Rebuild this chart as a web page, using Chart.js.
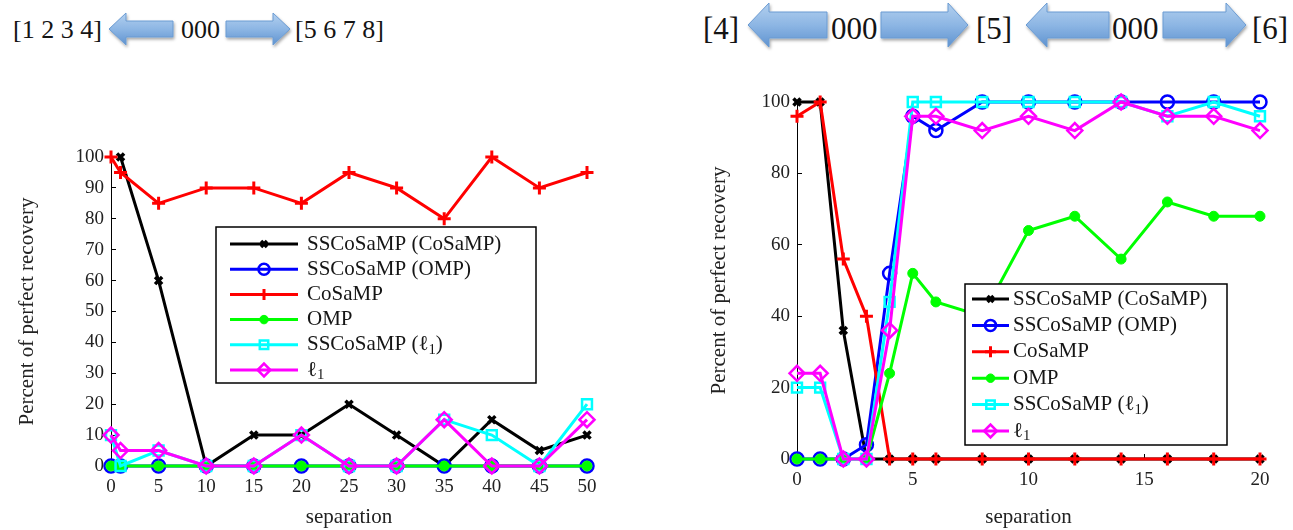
<!DOCTYPE html>
<html>
<head>
<meta charset="utf-8">
<script src="https://cdn.jsdelivr.net/npm/chart.js@4.4.1/dist/chart.umd.min.js"></script>
<style>
  body { margin: 0; background: #fff; width: 1293px; height: 530px; position: relative; overflow: hidden; font-family: "Liberation Serif", serif; }
  .hd { position: absolute; white-space: pre; color: #141414; line-height: 1; }
  #hdr { position: absolute; left: 0; top: 0; }
  #boxL { position: absolute; left: 0; top: 100px; width: 620px; height: 430px; }
  #boxR { position: absolute; left: 650px; top: 60px; width: 643px; height: 470px; }
</style>
</head>
<body>
<svg id="hdr" width="1293" height="60"></svg>
<div class="hd" style="left:13px;top:17px;font-size:26px">[1 2 3 4]</div>
<div class="hd" style="left:181px;top:17px;font-size:26px">000</div>
<div class="hd" style="left:295px;top:17px;font-size:26px">[5 6 7 8]</div>
<div class="hd" style="left:703px;top:13px;font-size:31px">[4]</div>
<div class="hd" style="left:831px;top:13px;font-size:31px">000</div>
<div class="hd" style="left:976px;top:13px;font-size:31px">[5]</div>
<div class="hd" style="left:1112px;top:13px;font-size:31px">000</div>
<div class="hd" style="left:1252px;top:13px;font-size:31px">[6]</div>
<div id="boxL"><canvas id="chartL" width="620" height="430"></canvas></div>
<div id="boxR"><canvas id="chartR" width="643" height="470"></canvas></div>
<script>
// datos del panel izquierdo
const sepLeft = [0, 1, 5, 10, 15, 20, 25, 30, 35, 40, 45, 50];
const ssCosampLeft = [null, 100, 60, 0, 10, 10, 20, 10, 0, 15, 5, 10];
const ssOmpLeft = [0, 0, 0, 0, 0, 0, 0, 0, 0, 0, 0, 0];
const cosampLeft = [100, 95, 85, 90, 90, 85, 95, 90, 80, 100, 90, 95];
const ompLeft = [0, 0, 0, 0, 0, 0, 0, 0, 0, 0, 0, 0];
const ssL1Left = [10, 0, 5, 0, 0, 10, 0, 0, 15, 10, 0, 20];
const l1Left = [10, 5, 5, 0, 0, 10, 0, 0, 15, 0, 0, 15];

// datos del panel derecho
const sepRight = [0, 1, 2, 3, 4, 5, 6, 8, 10, 12, 14, 16, 18, 20];
const ssCosampRight = [100, 100, 36, 0, 0, 0, 0, 0, 0, 0, 0, 0, 0, 0];
const ssOmpRight = [0, 0, 0, 4, 52, 96, 92, 100, 100, 100, 100, 100, 100, 100];
const cosampRight = [96, 100, 56, 40, 0, 0, 0, 0, 0, 0, 0, 0, 0, 0];
const ompRight = [0, 0, 0, 0, 24, 52, 44, 40, 64, 68, 56, 72, 68, 68];
const ssL1Right = [20, 20, 0, 0, 44, 100, 100, 100, 100, 100, 100, 96, 100, 96];
const l1Right = [24, 24, 0, 0, 36, 96, 96, 92, 96, 92, 100, 96, 96, 92];

const seriesNames = ['SSCoSaMP (CoSaMP)', 'SSCoSaMP (OMP)', 'CoSaMP', 'OMP', 'SSCoSaMP (ℓ₁)', 'ℓ₁'];
const yTitle = 'Percent of perfect recovery';
const xTitle = 'separation';

const serif = '"Liberation Serif", "Times New Roman", serif';

// estilo de cada serie (mismo orden que seriesNames)
const looks = [
  { color: '#000000', style: 'crossRot', r: 5, bw: 3.5, fill: '#000000' },
  { color: '#0000ff', style: 'circle', r: 6.5, bw: 2.5, fill: 'rgba(0,0,0,0)' },
  { color: '#ff0000', style: 'cross', r: 6.5, bw: 3, fill: '#ff0000' },
  { color: '#00ff00', style: 'circle', r: 5, bw: 1, fill: '#00ff00' },
  { color: '#00ffff', style: 'rect', r: 7, bw: 2.5, fill: 'rgba(0,0,0,0)' },
  { color: '#ff00ff', style: 'rectRot', r: 7.5, bw: 2.5, fill: 'rgba(0,0,0,0)' }
];

function buildDatasets(xs, series) {
  return series.map((ys, i) => {
    const lk = looks[i];
    return {
      label: seriesNames[i],
      data: ys.map((y, j) => ({ x: xs[j], y: y })),
      borderColor: lk.color,
      borderWidth: 3,
      pointStyle: lk.style,
      pointRadius: lk.r,
      pointHoverRadius: lk.r,
      pointBorderWidth: lk.bw,
      pointBorderColor: lk.color,
      pointBackgroundColor: lk.fill,
      tension: 0,
      clip: false,
      spanGaps: false,
      order: series.length - i
    };
  });
}

// texto con subíndice para ℓ₁
function drawLabel(ctx, text, x, y, size) {
  let cx = x;
  for (const ch of text) {
    if (ch === '₁') {
      ctx.font = (size * 0.7) + 'px ' + serif;
      ctx.fillText('1', cx, y + size * 0.25);
      cx += ctx.measureText('1').width;
    } else {
      ctx.font = size + 'px ' + serif;
      ctx.fillText(ch, cx, y);
      cx += ctx.measureText(ch).width;
    }
  }
}

const boxLegend = {
  id: 'boxLegend',
  afterDatasetsDraw(chart, args, o) {
    const ctx = chart.ctx;
    ctx.save();
    ctx.fillStyle = '#ffffff';
    ctx.fillRect(o.left, o.top, o.width, o.height);
    ctx.strokeStyle = '#000000';
    ctx.lineWidth = 1.5;
    ctx.strokeRect(o.left, o.top, o.width, o.height);
    chart.data.datasets.forEach((ds, i) => {
      const y = o.top + o.firstRow + i * o.rowGap;
      ctx.strokeStyle = ds.borderColor;
      ctx.lineWidth = ds.borderWidth;
      ctx.beginPath();
      ctx.moveTo(o.left + o.lineStart, y);
      ctx.lineTo(o.left + o.lineEnd, y);
      ctx.stroke();
      ctx.fillStyle = ds.pointBackgroundColor;
      ctx.strokeStyle = ds.pointBorderColor;
      ctx.lineWidth = ds.pointBorderWidth;
      Chart.helpers.drawPoint(ctx, {
        pointStyle: ds.pointStyle, radius: ds.pointRadius * 0.85,
        borderWidth: ds.pointBorderWidth, rotation: 0
      }, o.left + (o.lineStart + o.lineEnd) / 2, y);
      ctx.fillStyle = '#151515';
      ctx.textBaseline = 'middle';
      ctx.textAlign = 'left';
      drawLabel(ctx, ds.label, o.left + o.textX, y, o.fontSize);
    });
    ctx.restore();
  }
};

function axis(min, max, step, title, titlePad, size, tickPad) {
  return {
    type: 'linear',
    min: min, max: max,
    afterFit: s => { if (s.isHorizontal()) s.height = size; else s.width = size; },
    ticks: { stepSize: step, padding: tickPad, color: '#222', font: { family: serif, size: 19 } },
    grid: { display: true, drawOnChartArea: false, drawTicks: true, tickLength: -5, color: '#000', lineWidth: 1 },
    border: { display: true, color: '#000', width: 1 },
    title: { display: true, text: title, color: '#222', padding: titlePad, font: { family: serif, size: 21 } }
  };
}

function makeChart(id, xs, series, cfg) {
  return new Chart(document.getElementById(id).getContext('2d'), {
    type: 'line',
    data: { datasets: buildDatasets(xs, series) },
    options: {
      responsive: false,
      animation: false,
      events: [],
      layout: { padding: cfg.pad },
      scales: {
        x: axis(cfg.xMin, cfg.xMax, cfg.xStep, xTitle, { top: 0, bottom: 0 }, cfg.xSize, 15),
        y: axis(0, 100, cfg.yStep, yTitle, { top: cfg.yTitlePad, bottom: 0 }, cfg.ySize, 12)
      },
      plugins: {
        legend: { display: false },
        tooltip: { enabled: false },
        boxLegend: cfg.legend
      }
    },
    plugins: [boxLegend]
  });
}

function drawArrows() {
  const svg = document.getElementById('hdr');
  const ns = 'http://www.w3.org/2000/svg';
  svg.innerHTML =
    '<defs><linearGradient id="ag" x1="0" y1="0" x2="0" y2="1">' +
    '<stop offset="0" stop-color="#b3d0ef"/><stop offset="0.5" stop-color="#8db6e4"/><stop offset="1" stop-color="#5f93d0"/>' +
    '</linearGradient><filter id="sh" x="-20%" y="-30%" width="140%" height="170%">' +
    '<feDropShadow dx="1" dy="2" stdDeviation="1.5" flood-color="#000" flood-opacity="0.35"/></filter></defs>';
  const arrows = [
    [109, 173, 29, 32, 16, 17, -1], [226, 290, 29, 32, 16, 17, 1],
    [748, 827, 25, 44, 26, 21, -1], [881, 968, 25, 44, 26, 20, 1],
    [1026, 1109, 25, 44, 26, 21, -1], [1163, 1246, 25, 44, 26, 20, 1]
  ];
  arrows.forEach(([x1, x2, yc, hh, sh, hl, dir]) => {
    let pts;
    if (dir < 0) {
      pts = [[x1, yc], [x1 + hl, yc - hh / 2], [x1 + hl, yc - sh / 2], [x2, yc - sh / 2],
             [x2, yc + sh / 2], [x1 + hl, yc + sh / 2], [x1 + hl, yc + hh / 2]];
    } else {
      pts = [[x2, yc], [x2 - hl, yc - hh / 2], [x2 - hl, yc - sh / 2], [x1, yc - sh / 2],
             [x1, yc + sh / 2], [x2 - hl, yc + sh / 2], [x2 - hl, yc + hh / 2]];
    }
    const p = document.createElementNS(ns, 'polygon');
    p.setAttribute('points', pts.map(q => q.join(',')).join(' '));
    p.setAttribute('fill', 'url(#ag)');
    p.setAttribute('stroke', '#6b9bd2');
    p.setAttribute('stroke-width', '1');
    p.setAttribute('filter', 'url(#sh)');
    svg.appendChild(p);
  });
}

function drawCharts() {
  makeChart('chartL', sepLeft,
    [ssCosampLeft, ssOmpLeft, cosampLeft, ompLeft, ssL1Left, l1Left], {
      pad: { top: 57, right: 33, left: 0, bottom: 0 },
      xMin: 0, xMax: 50, xStep: 5, yStep: 10,
      xSize: 64, ySize: 111, yTitlePad: 15,
      legend: { left: 216, top: 127, width: 320, height: 156, firstRow: 17, rowGap: 25.2,
                lineStart: 14, lineEnd: 82, textX: 91, fontSize: 21 }
    });
  makeChart('chartR', sepRight,
    [ssCosampRight, ssOmpRight, cosampRight, ompRight, ssL1Right, l1Right], {
      pad: { top: 42, right: 33, left: 0, bottom: 0 },
      xMin: 0, xMax: 20, xStep: 5, yStep: 20,
      xSize: 71, ySize: 147, yTitlePad: 57,
      legend: { left: 315, top: 224, width: 262, height: 161, firstRow: 15, rowGap: 26.4,
                lineStart: 7, lineEnd: 44, textX: 48, fontSize: 21 }
    });
}

window.onload = () => {
  drawArrows();
  // esperar a que la fuente serif esté lista antes de pintar los lienzos
  Promise.all([
    document.fonts.load('19px "Liberation Serif"'),
    document.fonts.load('21px "Liberation Serif"')
  ]).then(drawCharts, drawCharts);
};
</script>
</body>
</html>
